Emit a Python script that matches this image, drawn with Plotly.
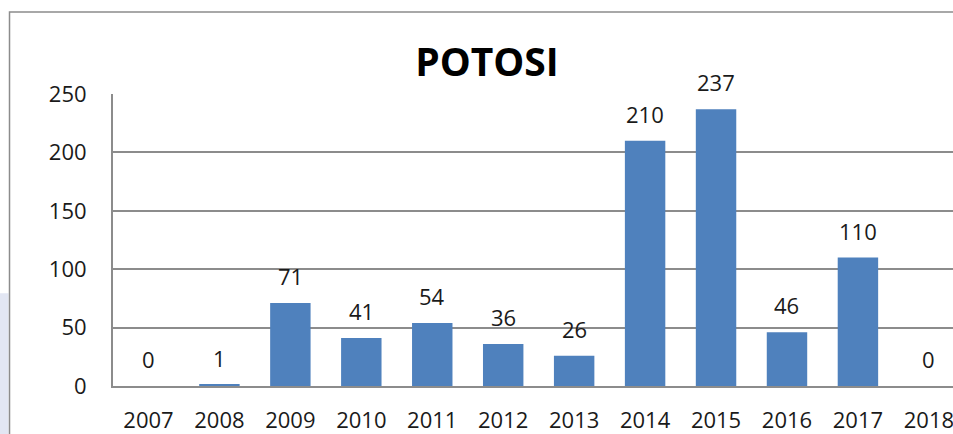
import plotly.graph_objects as go

years = ["2007", "2008", "2009", "2010", "2011", "2012", "2013", "2014", "2015", "2016", "2017", "2018"]
values = [0, 1, 71, 41, 54, 36, 26, 210, 237, 46, 110, 0]
y_ticks = [0, 50, 100, 150, 200, 250]

FONT = "Open Sans"
GRID = "#8c8c8c"

fig = go.Figure()
fig.add_trace(go.Bar(
    x=list(range(len(years))), y=values,
    width=0.57,
    marker=dict(color="#4F81BD", line=dict(width=0)),
    hoverinfo="skip",
))

for i, v in enumerate(values):
    fig.add_annotation(
        x=i, y=v, text=str(v), showarrow=False,
        xref="x", yref="y", yanchor="bottom", yshift=10,
        font=dict(family=FONT, size=22, color="#1a1a1a"),
    )

# faint background watermark at far left
fig.add_shape(type="rect", xref="paper", yref="paper",
              x0=-0.2, x1=-0.1244, y0=-0.4, y1=0.318,
              line=dict(width=0), fillcolor="#e2e6f3", layer="below")

# outer chart frame (partially cropped)
fig.add_shape(type="rect", xref="paper", yref="paper",
              x0=-0.1232, x1=1.2, y0=-0.4, y1=1.281,
              line=dict(color="#8c8c8c", width=1.5), layer="below")

W, H = 953, 434
fig.update_layout(
    width=W, height=H,
    margin=dict(l=113, r=0, t=94, b=48),
    paper_bgcolor="white", plot_bgcolor="white",
    showlegend=False,
    title=dict(text="<b>POTOSI</b>", x=487 / W, xanchor="center",
               y=1 - 62 / H, yanchor="middle",
               font=dict(family=FONT, size=39, color="black")),
    xaxis=dict(
        range=[-0.5, 11.34],
        tickmode="array", tickvals=list(range(len(years))), ticktext=years,
        showgrid=False, zeroline=False,
        showline=True, linecolor=GRID, linewidth=2,
        ticks="", ticklabelstandoff=14, ticklabeloverflow="allow",
        tickfont=dict(family=FONT, size=22, color="#1a1a1a"),
        fixedrange=True,
    ),
    yaxis=dict(
        range=[0, 250],
        tickmode="array", tickvals=y_ticks,
        showgrid=True, gridcolor=GRID, gridwidth=1.5,
        zeroline=False,
        showline=True, linecolor=GRID, linewidth=2,
        ticks="", ticklabelstandoff=20,
        tickfont=dict(family=FONT, size=22, color="#1a1a1a"),
        fixedrange=True,
    ),
)

fig.write_html(
    "out.html",
    config={"displayModeBar": False},
    post_script="document.body.style.margin='0';document.body.style.overflow='hidden';",
)
